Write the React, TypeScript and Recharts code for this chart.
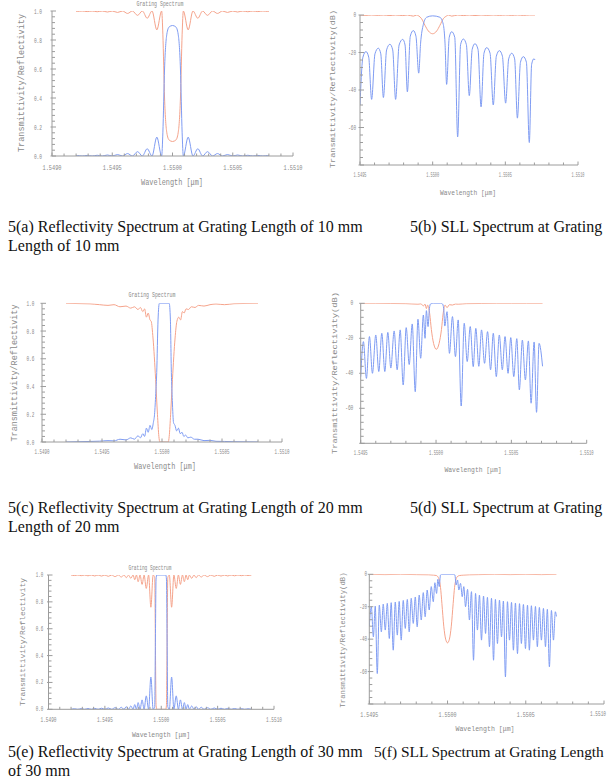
import { Line, LineChart, XAxis, YAxis } from "recharts"

const W = 616
const H = 782
const BLUE = "#7f9cf3"
const RED = "#f5a38b"
const AXIS = "#9c9c9c"
const INK = "#8a8a8a"
const MONO = "'Liberation Mono', 'DejaVu Sans Mono', monospace"

// wavelength offsets from 1.5500 um, in pm

// 5(a) 10 mm, linear
const aWl = [-800, -790, -750, -708, -667, -625, -583, -540, -500, -456, -415, -373, -333, -290, -250, -210, -170, -130, -90, -80, -66, -47, -28, 0, 28, 47, 66, 80, 90, 130, 170, 210, 250, 290, 333, 373, 415, 456, 500, 540, 583, 625, 667, 708, 750, 790, 800]
const aRefl = [0.002, 0.003, 0, 0.004, 0, 0.005, 0, 0.007, 0, 0.01, 0, 0.017, 0, 0.03, 0, 0.05, 0, 0.13, 0, 0.16, 0.6, 0.84, 0.89, 0.9, 0.89, 0.84, 0.6, 0.16, 0, 0.13, 0, 0.05, 0, 0.03, 0, 0.017, 0, 0.01, 0, 0.007, 0, 0.005, 0, 0.004, 0, 0.003, 0.002]
const aTrans = [0.998, 0.997, 1, 0.996, 1, 0.995, 1, 0.993, 1, 0.99, 1, 0.983, 1, 0.97, 1, 0.95, 1, 0.87, 1, 0.84, 0.4, 0.16, 0.11, 0.1, 0.11, 0.16, 0.4, 0.84, 1, 0.87, 1, 0.95, 1, 0.97, 1, 0.983, 1, 0.99, 1, 0.993, 1, 0.995, 1, 0.996, 1, 0.997, 0.998]

// 5(b) 10 mm, dB
const bReflWl = [-500, -480, -459, -440, -420, -397, -374, -357, -339, -317, -294, -275, -255, -231, -206, -190, -174, -154, -133, -115, -96, -83, -64, -41, 0, 50, 73, 85, 96, 114, 131, 152, 172, 192, 211, 232, 252, 272, 291, 312, 333, 353, 372, 395, 417, 438, 459, 480, 502, 523, 544, 564, 583, 604, 624, 645, 665, 681, 697, 704]
const bRefl = [-48, -22.5, -19.5, -22.5, -45, -20.7, -17.7, -20.7, -44, -18.6, -15.6, -18.6, -45, -16, -13, -16, -41, -11.3, -8.3, -11.3, -31, -15, -5, -1.2, -0.45, -1.2, -5, -15, -37, -11.9, -8.9, -11.9, -65, -15.8, -12.8, -15.8, -43, -18.3, -15.3, -18.3, -49, -20.4, -17.4, -20.4, -48, -22, -19, -22, -47, -23.4, -20.4, -23.4, -55, -25.2, -22.2, -25.2, -68, -26.3, -23.3, -24]
const bTransWl = [-500, -459, -420, -374, -339, -294, -255, -206, -174, -133, -110, -96, -76, -53, -30, 0, 28, 50, 73, 96, 110, 131, 172, 211, 252, 291, 333, 372, 417, 459, 502, 544, 583, 624, 665, 704]
const bTrans = [0, -0.2, 0, -0.2, 0, -0.3, 0, -0.3, 0, -0.6, 0, -0.5, -2, -5.5, -8.5, -10, -8.5, -5.5, -2, -0.5, 0, -0.6, 0, -0.3, 0, -0.3, 0, -0.2, 0, -0.2, 0, -0.2, 0, -0.2, 0, 0]

// 5(c) 20 mm, linear
const cReflWl = [-800, -700, -600, -520, -450, -400, -350, -300, -260, -230, -200, -180, -160, -145, -130, -115, -100, -85, -72, -62, -52, -44, -33, -22, 60, 70, 78, 86, 96, 108, 122, 137, 152, 167, 182, 197, 215, 240, 270, 300, 350, 400, 450, 520, 600, 700, 800]
const cRefl = [0, 0.002, 0.004, 0.006, 0.01, 0.008, 0.02, 0.015, 0.03, 0.02, 0.045, 0.03, 0.06, 0.04, 0.1, 0.07, 0.12, 0.09, 0.14, 0.2, 0.35, 0.5, 0.88, 1, 1, 0.88, 0.5, 0.3, 0.14, 0.12, 0.08, 0.1, 0.06, 0.07, 0.04, 0.05, 0.03, 0.035, 0.02, 0.02, 0.01, 0.012, 0.005, 0.004, 0.002, 0.001, 0]
const cTransWl = [-800, -700, -600, -520, -450, -400, -350, -300, -260, -230, -200, -180, -160, -145, -130, -115, -100, -90, -75, -53, -38, -26, -18, 52, 60, 72, 87, 109, 124, 140, 155, 170, 185, 200, 220, 245, 275, 305, 350, 400, 450, 520, 600, 700, 800]
const cTrans = [1, 0.998, 0.996, 0.99, 0.985, 0.99, 0.975, 0.98, 0.965, 0.975, 0.955, 0.97, 0.94, 0.96, 0.9, 0.93, 0.88, 0.87, 0.75, 0.45, 0.2, 0.04, 0, 0, 0.04, 0.2, 0.45, 0.75, 0.87, 0.9, 0.88, 0.94, 0.93, 0.96, 0.955, 0.975, 0.97, 0.985, 0.98, 0.99, 0.995, 0.99, 0.997, 0.999, 1]

// 5(d) 20 mm, dB
const dReflWl = [-500, -482, -462, -442, -422, -400, -380, -360, -340, -320, -300, -278, -258, -238, -218, -198, -178, -158, -138, -120, -102, -84, -73, -64, -53, -44, -36, -16, 29, 42, 51, 58, 73, 89, 109, 129, 147, 167, 187, 207, 227, 247, 264, 284, 302, 322, 342, 362, 380, 400, 420, 440, 458, 478, 496, 516, 536, 553, 573, 593, 613, 631, 651, 667, 684, 707]
const dRefl = [-42, -21.9, -42.9, -19, -40, -18.1, -39, -17.1, -39, -16.6, -37, -15.8, -38, -15.2, -46.7, -13.9, -35, -11.8, -50.5, -9.1, -31.4, -6.7, -20, -4.2, -13.3, -3, -0.3, 0, 0, -0.3, -3, -13, -4.8, -28.6, -7.6, -30.5, -9.5, -58.7, -11.4, -33.3, -13.3, -36.2, -14.3, -36, -15.2, -34.3, -16.2, -38, -17.1, -41.9, -18.1, -38, -19, -40, -19.6, -41.9, -20.2, -49.5, -21, -43.8, -21.5, -57.1, -22.1, -62.3, -22.9, -36]
const dTransWl = [-500, -400, -300, -200, -120, -100, -84, -73, -64, -56, -42, -31, -16, 2, 20, 36, 47, 60, 73, 89, 109, 129, 147, 200, 300, 400, 500, 600, 707]
const dTrans = [0, 0, -0.1, -0.2, -0.5, -0.3, -1.5, -0.5, -3, -1, -6, -15, -23, -26.3, -23, -15, -6, -1, -2.5, -0.8, -1, -0.4, -0.5, -0.2, -0.1, 0, 0, 0, 0]

// 5(e) 30 mm, linear
const eWl = [-800, -770, -740, -710, -680, -650, -620, -590, -560, -530, -500, -470, -440, -410, -380, -355, -330, -310, -290, -270, -250, -235, -220, -205, -188, -170, -152, -133, -112, -92, -72, -58, -52, -46, -40, 40, 46, 52, 58, 72, 92, 112, 133, 152, 170, 188, 205, 220, 235, 250, 270, 290, 310, 330, 355, 380, 410, 440, 470, 500, 530, 560, 590, 620, 650, 680, 710, 740, 770, 800]
const eRefl = [0, 0.004, 0, 0.005, 0, 0.006, 0, 0.007, 0, 0.008, 0, 0.01, 0, 0.012, 0, 0.015, 0, 0.02, 0, 0.025, 0, 0.035, 0, 0.05, 0, 0.07, 0, 0.1, 0, 0.24, 0, 0.02, 0.5, 0.97, 1, 1, 0.97, 0.5, 0.02, 0, 0.24, 0, 0.1, 0, 0.07, 0, 0.05, 0, 0.035, 0, 0.025, 0, 0.02, 0, 0.015, 0, 0.012, 0, 0.01, 0, 0.008, 0, 0.007, 0, 0.006, 0, 0.005, 0, 0.004, 0]
const eTrans = [1, 0.996, 1, 0.995, 1, 0.994, 1, 0.993, 1, 0.992, 1, 0.99, 1, 0.988, 1, 0.985, 1, 0.98, 1, 0.975, 1, 0.965, 1, 0.95, 1, 0.93, 1, 0.9, 1, 0.76, 1, 0.98, 0.5, 0.03, 0, 0, 0.03, 0.5, 0.98, 1, 0.76, 1, 0.9, 1, 0.93, 1, 0.95, 1, 0.965, 1, 0.975, 1, 0.98, 1, 0.985, 1, 0.988, 1, 0.99, 1, 0.992, 1, 0.993, 1, 0.994, 1, 0.995, 1, 0.996, 1]

// 5(f) 30 mm, dB
const fReflWl = [-500, -487, -474, -462, -449, -436, -423, -411, -398, -385, -372, -360, -347, -334, -321, -309, -296, -283, -270, -257, -245, -232, -219, -206, -194, -181, -168, -155, -143, -130, -117, -104, -91, -81, -70, -62, -53, -45, -36, 36, 47, 55, 64, 72, 83, 94, 104, 115, 128, 140, 153, 166, 179, 191, 204, 217, 230, 243, 255, 268, 281, 294, 306, 319, 332, 345, 357, 370, 383, 396, 409, 421, 434, 447, 460, 472, 485, 498, 511, 523, 536, 549, 562, 574, 587, 600, 613, 626, 638, 651, 664, 677, 689, 696]
const fRefl = [-32, -20, -38.6, -19.6, -61.2, -19, -35.5, -18.4, -34.4, -17.9, -39.6, -17.5, -46.8, -17.1, -37.5, -16.7, -40.6, -16.1, -33.4, -15.5, -35.5, -14.8, -30.3, -14, -32.4, -12.8, -28.2, -11.3, -26.2, -9.7, -22, -7.6, -16.9, -5.2, -11.8, -3.1, -7.6, -0.4, 0, 0, -0.4, -6.6, -3.5, -9.7, -5.6, -13.8, -7.6, -20, -9.3, -28.2, -10.7, -53, -11.8, -34.4, -12.8, -40.6, -13.4, -36.5, -14.2, -44.7, -14.8, -53, -15.5, -42.7, -15.9, -38.6, -16.5, -63.3, -16.9, -40.6, -17.3, -46.8, -17.7, -48.9, -18.1, -42.7, -18.6, -45.8, -19, -46.8, -19.4, -40.6, -19.8, -44.7, -20.4, -40.6, -21, -44.7, -21.6, -57.1, -22.3, -40.6, -23.1, -26]
const fTransWl = [-500, -400, -300, -200, -120, -90, -70, -62, -53, -45, -36, -24, -12, 0, 12, 24, 36, 45, 53, 62, 75, 100, 140, 200, 300, 400, 500, 600, 696]
const fTrans = [0, -0.2, 0, -0.2, -0.3, -0.5, -0.8, -1.5, -3.5, -8, -18, -32, -40, -42.3, -40, -32, -18, -8, -3.5, -1.5, -0.8, -0.5, -0.3, -0.2, 0, -0.2, 0, -0.2, 0]

// axis ticks
const xTicksFull = [1.549, 1.5491, 1.5492, 1.5493, 1.5494, 1.5495, 1.5496, 1.5497, 1.5498, 1.5499, 1.55, 1.5501, 1.5502, 1.5503, 1.5504, 1.5505, 1.5506, 1.5507, 1.5508, 1.5509, 1.551]
const xTicksHalf = [1.5495, 1.5496, 1.5497, 1.5498, 1.5499, 1.55, 1.5501, 1.5502, 1.5503, 1.5504, 1.5505, 1.5506, 1.5507, 1.5508, 1.5509, 1.551]
const yTicksLin = [0, 0.04, 0.08, 0.12, 0.16, 0.2, 0.24, 0.28, 0.32, 0.36, 0.4, 0.44, 0.48, 0.52, 0.56, 0.6, 0.64, 0.68, 0.72, 0.76, 0.8, 0.84, 0.88, 0.92, 0.96, 1]
const yTicksDb = [-80, -76, -72, -68, -64, -60, -56, -52, -48, -44, -40, -36, -32, -28, -24, -20, -16, -12, -8, -4, 0]

const rows = (wl: number[], v: number[]) =>
  wl.map((d, i) => ({ x: 1.55 + d / 1e6, y: v[i] }))

interface Frame {
  left: number
  right: number
  top: number
  bottom: number
  xTicks: number[]
  yTicks: number[]
  db: boolean
  xLabelY: number
  xLen: number
  xFont: number
  yLabelX: number
  yChar: number
  yFont: number
}

function XTick(props: any) {
  const { x, payload, index, f } = props
  const major = index % 5 === 0
  // keep a label that would run past the page edge inside it
  const overflow = x + f.xLen / 2 > W - 14
  return (
    <g>
      <line x1={x} x2={x} y1={f.bottom} y2={f.bottom - (major ? 3.5 : 2.5)} stroke={AXIS} />
      {major && (
        <text
          x={overflow ? W - 10 : x}
          y={f.xLabelY}
          textAnchor={overflow ? "end" : "middle"}
          dominantBaseline="central"
          fontFamily={MONO}
          fontSize={overflow ? f.xFont - 1 : f.xFont}
          textLength={overflow ? f.xLen - 2 : f.xLen}
          lengthAdjust="spacingAndGlyphs"
          fill={INK}
        >
          {payload.value.toFixed(4)}
        </text>
      )}
    </g>
  )
}

function YTick(props: any) {
  const { y, payload, index, f } = props
  const major = index % 5 === 0
  const v: number = payload.value
  const label = f.db ? (v === -80 ? "" : String(v)) : v.toFixed(1)
  return (
    <g>
      <line
        x1={major ? f.left - 1.5 : f.left}
        x2={f.left + (major ? 4 : 3)}
        y1={y}
        y2={y}
        stroke={AXIS}
      />
      {major && label && (
        <text
          x={f.yLabelX}
          y={y}
          textAnchor="end"
          dominantBaseline="central"
          fontFamily={MONO}
          fontSize={f.yFont}
          textLength={label.length * f.yChar}
          lengthAdjust="spacingAndGlyphs"
          fill={INK}
        >
          {label}
        </text>
      )}
    </g>
  )
}

function Spectrum({ f, refl, trans }: { f: Frame; refl: any[]; trans: any[] }) {
  const xd = [f.xTicks[0], f.xTicks[f.xTicks.length - 1]]
  const yd = f.db ? [-80, 0] : [0, 1]
  return (
    <div style={{ position: "absolute", left: 0, top: 0 }}>
      <LineChart
        width={W}
        height={H}
        margin={{ top: f.top, left: f.left - 20, right: W - f.right, bottom: H - f.bottom - 20 }}
      >
        <XAxis
          type="number"
          dataKey="x"
          domain={xd}
          ticks={f.xTicks}
          interval={0}
          height={20}
          allowDataOverflow
          tickLine={false}
          axisLine={{ stroke: AXIS }}
          tick={(p: any) => <XTick {...p} f={f} />}
        />
        <YAxis
          type="number"
          dataKey="y"
          domain={yd}
          ticks={f.yTicks}
          interval={0}
          width={20}
          allowDataOverflow
          tickLine={false}
          axisLine={{ stroke: AXIS }}
          tick={(p: any) => <YTick {...p} f={f} />}
        />
        <Line data={trans} dataKey="y" type="monotone" stroke={RED} strokeWidth={1} dot={false} activeDot={false} isAnimationActive={false} />
        <Line data={refl} dataKey="y" type="monotone" stroke={BLUE} strokeWidth={1} dot={false} activeDot={false} isAnimationActive={false} />
      </LineChart>
    </div>
  )
}

const frames: Record<string, Frame> = {
  a: { left: 52, right: 293, top: 11, bottom: 156, xTicks: xTicksFull, yTicks: yTicksLin, db: false, xLabelY: 167.7, xLen: 19, xFont: 8, yLabelX: 42, yChar: 2.7, yFont: 8 },
  b: { left: 360, right: 578, top: 15, bottom: 165, xTicks: xTicksHalf, yTicks: yTicksDb, db: true, xLabelY: 175, xLen: 13, xFont: 7, yLabelX: 356, yChar: 2.6, yFont: 7 },
  c: { left: 42, right: 282, top: 303.3, bottom: 442, xTicks: xTicksFull, yTicks: yTicksLin, db: false, xLabelY: 451.7, xLen: 15, xFont: 8, yLabelX: 34.3, yChar: 2.6, yFont: 8 },
  d: { left: 360.7, right: 586.7, top: 303.3, bottom: 443.3, xTicks: xTicksHalf, yTicks: yTicksDb, db: true, xLabelY: 453, xLen: 14, xFont: 7, yLabelX: 353.3, yChar: 2.7, yFont: 7 },
  e: { left: 48.5, right: 274, top: 575, bottom: 709.3, xTicks: xTicksFull, yTicks: yTicksLin, db: false, xLabelY: 719, xLen: 16, xFont: 8, yLabelX: 43.3, yChar: 2.5, yFont: 7 },
  f: { left: 369.3, right: 604, top: 574.3, bottom: 704, xTicks: xTicksHalf, yTicks: yTicksDb, db: true, xLabelY: 714, xLen: 18, xFont: 8, yLabelX: 367, yChar: 2.5, yFont: 7 },
}

const axisTexts = [
  { t: "Grating Spectrum", x: 160, y: 4, len: 47, size: 7, rot: false },
  { t: "Wavelength [μm]", x: 172, y: 183, len: 62, size: 9, rot: false },
  { t: "Transmittivity/Reflectivity", x: 22, y: 83, len: 138, size: 9, rot: true },
  { t: "Wavelength [μm]", x: 468, y: 192, len: 56, size: 8, rot: false },
  { t: "Transmittivity/Reflectivity(dB)", x: 332, y: 89, len: 158, size: 8, rot: true },
  { t: "Grating Spectrum", x: 152, y: 295, len: 47, size: 7, rot: false },
  { t: "Wavelength [μm]", x: 165, y: 467, len: 62, size: 9, rot: false },
  { t: "Transmittivity/Reflectivity", x: 15, y: 373, len: 137, size: 9, rot: true },
  { t: "Wavelength [μm]", x: 473, y: 469, len: 57, size: 8, rot: false },
  { t: "Transmittivity/Reflectivity(dB)", x: 334, y: 373, len: 162, size: 8, rot: true },
  { t: "Grating Spectrum", x: 150, y: 568, len: 43, size: 7, rot: false },
  { t: "Wavelength [μm]", x: 161, y: 734, len: 58, size: 8, rot: false },
  { t: "Transmittivity/Reflectivity", x: 22, y: 642, len: 128, size: 8, rot: true },
  { t: "Wavelength [μm]", x: 485, y: 728, len: 59, size: 8, rot: false },
  { t: "Transmittivity/Reflectivity(dB)", x: 343, y: 640, len: 135, size: 7, rot: true },
]

const captions = [
  { t: "5(a) Reflectivity Spectrum at Grating Length of 10 mm", x: 8, y: 227, size: 16 },
  { t: "5(b) SLL Spectrum at Grating", x: 410, y: 227, size: 16 },
  { t: "Length of 10 mm", x: 8, y: 246, size: 16 },
  { t: "5(c) Reflectivity Spectrum at Grating Length of 20 mm", x: 8, y: 508, size: 16 },
  { t: "5(d) SLL Spectrum at Grating", x: 410, y: 508, size: 16 },
  { t: "Length of 20 mm", x: 8, y: 527, size: 16 },
  { t: "5(e) Reflectivity Spectrum at Grating Length of 30 mm", x: 8, y: 752, size: 16 },
  { t: "5(f) SLL Spectrum at Grating Length", x: 374, y: 752, size: 15.4 },
  { t: "of 30 mm", x: 8, y: 771, size: 16 },
]

export default function App() {
  return (
    <div
      style={{
        position: "absolute",
        left: 0,
        top: 0,
        width: W,
        height: H,
        overflow: "hidden",
        background: "#fff",
      }}
    >
      <Spectrum f={frames.a} refl={rows(aWl, aRefl)} trans={rows(aWl, aTrans)} />
      <Spectrum f={frames.b} refl={rows(bReflWl, bRefl)} trans={rows(bTransWl, bTrans)} />
      <Spectrum f={frames.c} refl={rows(cReflWl, cRefl)} trans={rows(cTransWl, cTrans)} />
      <Spectrum f={frames.d} refl={rows(dReflWl, dRefl)} trans={rows(dTransWl, dTrans)} />
      <Spectrum f={frames.e} refl={rows(eWl, eRefl)} trans={rows(eWl, eTrans)} />
      <Spectrum f={frames.f} refl={rows(fReflWl, fRefl)} trans={rows(fTransWl, fTrans)} />
      <svg width={W} height={H} style={{ position: "absolute", left: 0, top: 0 }}>
        {axisTexts.map((a, i) => (
          <text
            key={i}
            transform={`translate(${a.x},${a.y})${a.rot ? " rotate(-90)" : ""}`}
            textAnchor="middle"
            dominantBaseline="central"
            fontFamily={MONO}
            fontSize={a.size}
            textLength={a.len}
            lengthAdjust="spacingAndGlyphs"
            fill={INK}
          >
            {a.t}
          </text>
        ))}
      </svg>
      {captions.map((c, i) => (
        <div
          key={i}
          style={{
            position: "absolute",
            left: c.x,
            top: c.y - 10,
            height: 20,
            lineHeight: "20px",
            whiteSpace: "nowrap",
            fontFamily: "'Liberation Serif', 'Times New Roman', serif",
            fontSize: c.size,
            color: "#111",
          }}
        >
          {c.t}
        </div>
      ))}
    </div>
  )
}
